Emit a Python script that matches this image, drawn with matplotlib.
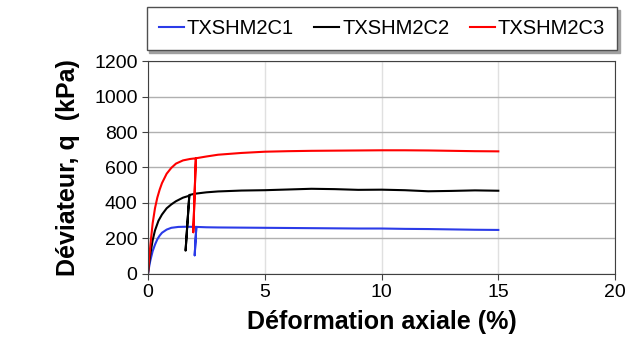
import matplotlib.pyplot as plt

plt.rcParams['font.family'] = ['Liberation Sans', 'DejaVu Sans']

# TXSHM2C1 (bleu)
x1 = [0, 0.05, 0.1, 0.2, 0.3, 0.4, 0.5, 0.6, 0.8, 1.0, 1.3, 1.6, 2.07,
      2.0, 2.07, 2.5, 3, 4, 5, 6, 7, 8, 9, 10, 11, 12, 13, 14, 15]
q1 = [0, 40, 75, 128, 165, 195, 216, 232, 250, 260, 265, 266, 265,
      105, 265, 263, 262, 261, 260, 259, 258, 257, 256, 256, 254, 253, 251, 249, 248]

# TXSHM2C2 (noir)
x2 = [0, 0.05, 0.1, 0.2, 0.3, 0.45, 0.6, 0.8, 1.0, 1.2, 1.5, 1.77,
      1.61, 1.77, 2.0, 2.5, 3, 4, 5, 6, 7, 8, 9, 10, 11, 12, 13, 14, 15]
q2 = [0, 60, 110, 190, 245, 300, 335, 370, 392, 410, 430, 441,
      131, 445, 452, 460, 465, 470, 472, 476, 480, 478, 474, 475, 472, 466, 468, 471, 469]

# TXSHM2C3 (rouge)
x3 = [0, 0.05, 0.1, 0.2, 0.3, 0.4, 0.5, 0.6, 0.8, 1.0, 1.2, 1.5, 1.8, 2.05,
      1.94, 2.05, 2.5, 3, 4, 5, 6, 7, 8, 9, 10, 11, 12, 13, 14, 15]
q3 = [0, 85, 160, 285, 370, 430, 475, 512, 565, 598, 622, 640, 648, 652,
      235, 652, 662, 672, 682, 689, 692, 694, 695, 696, 697, 697, 696, 694, 692, 691]

labels = ['TXSHM2C1', 'TXSHM2C2', 'TXSHM2C3']
colors = ['#2b3be8', 'black', 'red']

fig = plt.figure(figsize=(6.27, 3.53), dpi=100)
ax = fig.add_axes([0.236, 0.224, 0.745, 0.603])

for xs, qs, lab, c in zip([x1, x2, x3], [q1, q2, q3], labels, colors):
    ax.plot(xs, qs, color=c, lw=1.5, label=lab)

ax.set_xlim(0, 20)
ax.set_ylim(0, 1200)
ax.set_xticks([0, 5, 10, 15, 20])
ax.set_yticks(range(0, 1201, 200))
ax.tick_params(labelsize=14, direction='out', length=4, color='#404040')
ax.yaxis.grid(True, color='#b0b0b0', lw=1)
ax.xaxis.grid(True, color='#e0e0e0', lw=1)
ax.set_axisbelow(True)
for s in ax.spines.values():
    s.set_color('#404040')

ax.set_xlabel('Déformation axiale (%)', fontsize=18, fontweight='bold', labelpad=6)
ax.set_ylabel('Déviateur, q  (kPa)', fontsize=18, fontweight='bold', labelpad=10)

leg = fig.legend(loc='center', bbox_to_anchor=(0.609, 0.919), ncol=3,
                 fontsize=14.5, handlelength=1.25, handletextpad=0.15,
                 columnspacing=1.0, fancybox=False,
                 shadow={'color': '#a0a0a0', 'alpha': 1}, edgecolor='#505050',
                 borderpad=0.6, borderaxespad=0)
leg.get_frame().set_linewidth(1)

fig.savefig('out.png', dpi=100)
